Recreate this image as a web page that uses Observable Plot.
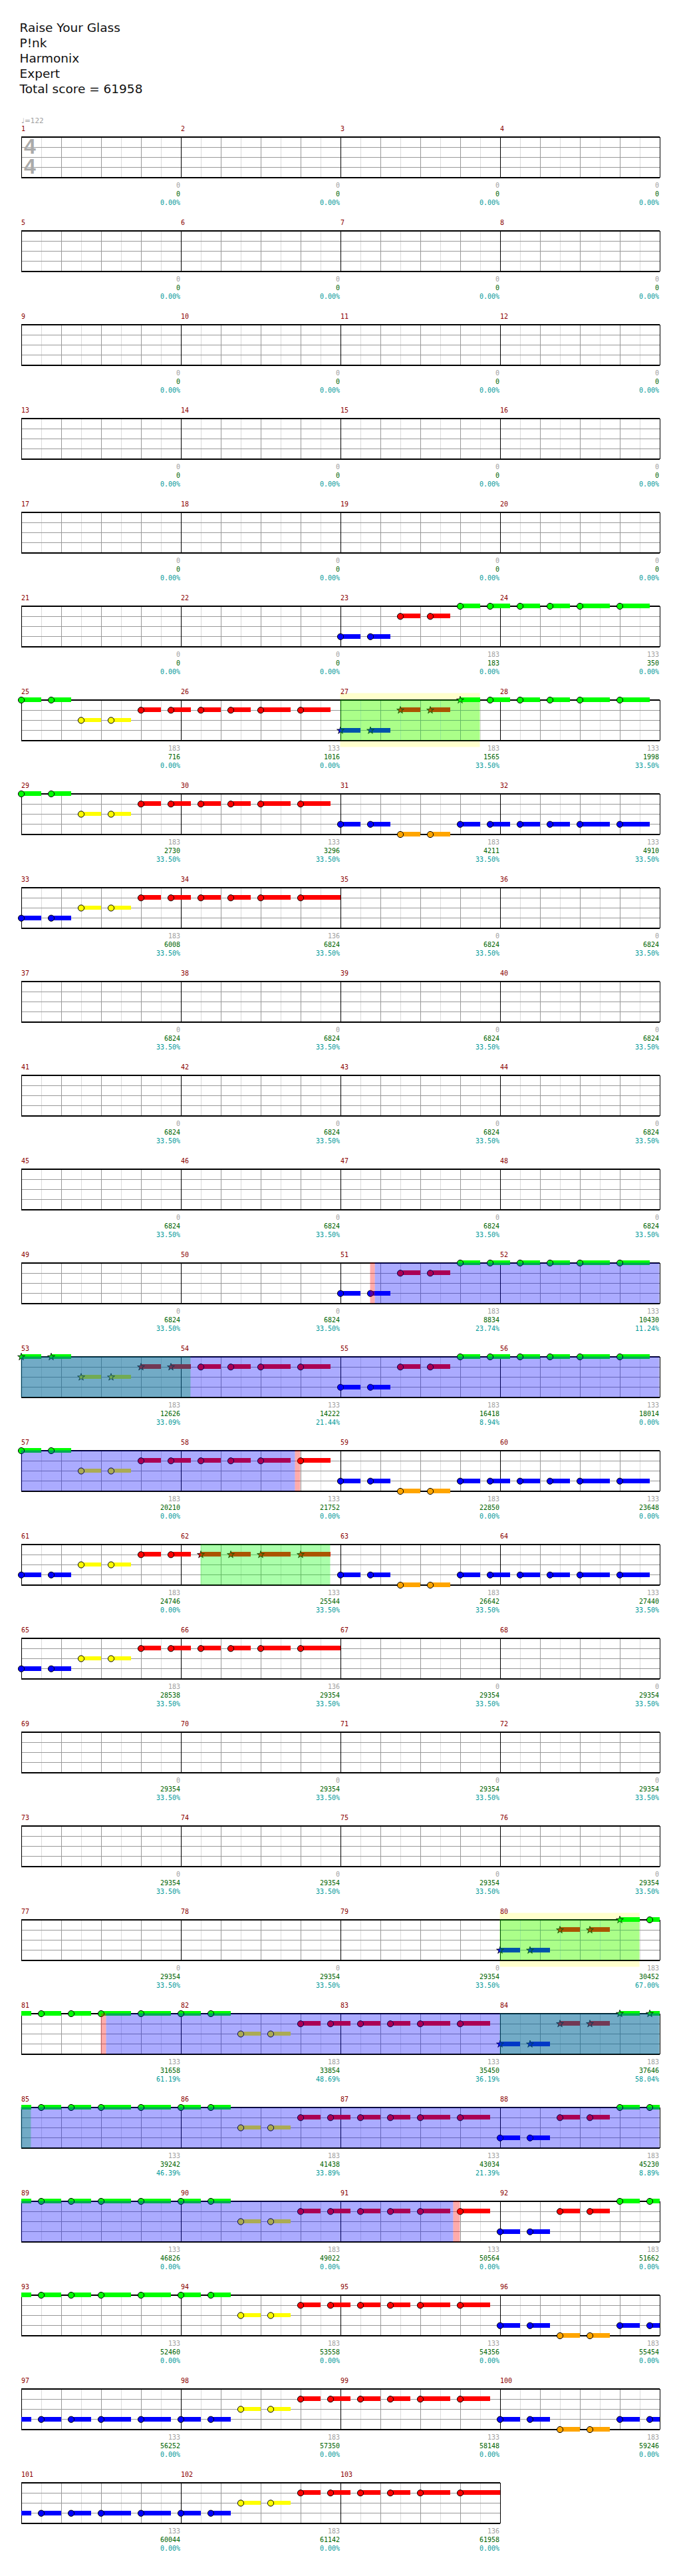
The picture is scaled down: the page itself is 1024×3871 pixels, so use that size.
<!DOCTYPE html>
<html><head><meta charset="utf-8">
<script src="https://cdn.jsdelivr.net/npm/d3@7"></script>
<script src="https://cdn.jsdelivr.net/npm/@observablehq/plot@0.6"></script>
<style>
body{margin:0;background:#fff;}
#title{height:150px;box-sizing:border-box;padding:30px 0 0 29.5px;font-family:"DejaVu Sans",sans-serif;font-size:18.5px;line-height:23px;color:#111;}
#title div{white-space:pre;}
#chart svg{display:block;}
</style></head><body>
<div id="title"></div>
<div id="chart"></div>
<script>
// ---------- data ----------
const titleLines = ["Raise Your Glass", "P!nk", "Harmonix", "Expert", "Total score = 61958"];
const tempoLabel = ["\u2669=122"];
const timeSignature = ["4", "4"];
const fretColors = ["#00ff00", "#ff0000", "#ffff00", "#0000ff", "#ffa500"]; // G R Y B O
const measureCount = 103;

// gray per-measure numbers
const noteScores = [
  0,0,0,0,0,0,0,0,0,0,0,0,0,0,0,0,0,0,0,0,0,0,
  183,133,183,133,183,133,183,133,183,133,183,136,
  0,0,0,0,0,0,0,0,0,0,0,0,0,0,0,0,
  183,133,183,133,183,133,183,133,183,133,183,133,183,133,183,136,
  0,0,0,0,0,0,0,0,0,0,0,0,0,
  183,133,183,133,183,133,183,133,183,133,183,133,183,133,183,133,183,133,183,133,183,133,183,136
];
// green running score
const runningScores = [
  0,0,0,0,0,0,0,0,0,0,0,0,0,0,0,0,0,0,0,0,0,0,
  183,350,716,1016,1565,1998,2730,3296,4211,4910,6008,6824,
  6824,6824,6824,6824,6824,6824,6824,6824,6824,6824,6824,6824,6824,6824,6824,6824,
  8834,10430,12626,14222,16418,18014,20210,21752,22850,23648,24746,25544,26642,27440,28538,29354,
  29354,29354,29354,29354,29354,29354,29354,29354,29354,29354,29354,29354,29354,
  30452,31658,33854,35450,37646,39242,41438,43034,45230,46826,49022,50564,51662,52460,53558,54356,55454,56252,57350,58148,59246,60044,61142,61958
];
// teal percentage
const overdrivePct = [
  0,0,0,0,0,0,0,0,0,0,0,0,0,0,0,0,0,0,0,0,0,0,0,0,0,0,
  33.5,33.5,33.5,33.5,33.5,33.5,33.5,33.5,33.5,33.5,33.5,33.5,33.5,33.5,33.5,33.5,33.5,33.5,33.5,33.5,33.5,33.5,33.5,33.5,
  23.74,11.24,33.09,21.44,8.94,0,0,0,0,0,0,
  33.5,33.5,33.5,33.5,33.5,33.5,33.5,33.5,33.5,33.5,33.5,33.5,33.5,33.5,33.5,33.5,33.5,33.5,
  67.00,61.19,48.69,36.19,58.04,46.39,33.89,21.39,8.89,
  0,0,0,0,0,0,0,0,0,0,0,0,0,0,0
];

// note phrases: [sixteenth offset, fret (0=G..4=O), sustain in sixteenths]
const patA     = [[0,0,2],[3,0,2],[6,2,2],[9,2,2],[12,1,2],[15,1,2],[18,1,2],[21,1,2],[24,1,3],[28,1,3]];
const patAb    = [[0,3,2],[3,3,2],[6,2,2],[9,2,2],[12,1,2],[15,1,2],[18,1,2],[21,1,2],[24,1,3],[28,1,3]];
const patAbEnd = [[0,3,2],[3,3,2],[6,2,2],[9,2,2],[12,1,2],[15,1,2],[18,1,2],[21,1,2],[24,1,3],[28,1,4]];
const patB     = [[0,3,2],[3,3,2],[6,1,2],[9,1,2],[12,0,2],[15,0,2],[18,0,2],[21,0,2],[24,0,3],[28,0,3]];
const patC     = [[0,3,2],[3,3,2],[6,4,2],[9,4,2],[12,3,2],[15,3,2],[18,3,2],[21,3,2],[24,3,3],[28,3,3]];
const patD     = [[2,0,2],[5,0,2],[8,0,3],[12,0,3],[16,0,2],[19,0,2],[22,2,2],[25,2,2],[28,1,2],[31,1,2],[34,1,2],[37,1,2],[40,1,3],[44,1,3]];
const patDb    = [[2,3,2],[5,3,2],[8,3,3],[12,3,3],[16,3,2],[19,3,2],[22,2,2],[25,2,2],[28,1,2],[31,1,2],[34,1,2],[37,1,2],[40,1,3],[44,1,3]];
const patDbEnd = [[2,3,2],[5,3,2],[8,3,3],[12,3,3],[16,3,2],[19,3,2],[22,2,2],[25,2,2],[28,1,2],[31,1,2],[34,1,2],[37,1,2],[40,1,3],[44,1,4]];
const patE     = [[0,3,2],[3,3,2],[6,1,2],[9,1,2],[12,0,2],[15,0,2]];
const patF     = [[0,3,2],[3,3,2],[6,4,2],[9,4,2],[12,3,2],[15,3,2]];

// [start measure, pattern, indices of star notes]
const phrases = [
  [23, patB, []], [25, patA, []], [27, patB, [0,1,2,3,4]], [29, patA, []], [31, patC, []], [33, patAbEnd, []],
  [51, patB, []], [53, patA, [0,1,2,3,4,5]], [55, patB, []], [57, patA, []], [59, patC, []],
  [61, patAb, [6,7,8,9]], [63, patC, []], [65, patAbEnd, []],
  [80, patE, [0,1,2,3,4]], [81, patD, []], [84, patE, [0,1,2,3,4,5]], [85, patD, []], [88, patE, []],
  [89, patD, []], [92, patE, []], [93, patD, []], [96, patF, []], [97, patDb, []], [100, patF, []], [101, patDbEnd, []]
];

// spans: [measure, sixteenth, measure, sixteenth]
const starPhraseSpans = [[27,0,27,14],[53,0,54,1],[62,2,62,15],[80,0,80,14],[84,0,85,1]];
const unisonBands     = [[27,0,27,14],[80,0,80,14]];
const overdriveSpans  = [[51,3.47,58,11.47],[81,8.53,91,11.33]];
const activationMarks = [[51,3,51,3.47],[58,11.47,58,12],[81,8,81,8.53],[91,11.33,91,12]];

// ---------- layout helpers ----------
const ROW_LEN = 64;              // sixteenths per row (4 measures)
const ROWSTEP = 141 / 15.25;     // row pitch in lane units
const nRows = Math.ceil(measureCount / 4);
const abs = (m, t) => (m - 1) * 16 + t;
function split(a, b) {
  const out = [];
  for (let r = Math.floor(a / ROW_LEN); r * ROW_LEN < b; r++) {
    const s = Math.max(a, r * ROW_LEN) - r * ROW_LEN, e = Math.min(b, (r + 1) * ROW_LEN) - r * ROW_LEN;
    if (e > s) out.push({row: r, x1: s, x2: e});
  }
  return out;
}
const spansToRects = spans => spans.flatMap(([m1, t1, m2, t2]) => split(abs(m1, t1), abs(m2, t2)));

const notes = [], bars = [];
for (const [m, pat, stars] of phrases) {
  pat.forEach(([t, fret, len], i) => {
    const a = abs(m, t), row = Math.floor(a / ROW_LEN);
    notes.push({row, x: a - row * ROW_LEN, fret, star: stars.includes(i)});
    for (const s of split(a, a + len)) bars.push({...s, fret});
  });
}

const rows = d3.range(nRows).map(r => ({row: r, len: Math.min(4, measureCount - r * 4) * 16}));
const vLines = rows.flatMap(({row, len}) => d3.range(0, len + 1, 2).map(p => ({row, p, kind: p % 16 === 0 ? "bar" : p % 4 === 0 ? "beat" : "eighth"})));
const hLines = rows.flatMap(({row, len}) => [0,1,2,3,4].map(lane => ({row, len, lane})));
const measures = d3.range(1, measureCount + 1).map(m => ({
  m, row: Math.floor((m - 1) / 4), x: ((m - 1) % 4) * 16,
  score: noteScores[m - 1], total: runningScores[m - 1], pct: overdrivePct[m - 1].toFixed(2) + "%"
}));

const yl = (row, lane) => row * ROWSTEP + lane;

// ---------- title ----------
document.getElementById("title").innerHTML = titleLines.map(t => `<div>${t}</div>`).join("");

// ---------- chart ----------
const mono = "DejaVu Sans Mono";
const chart = Plot.plot({
  width: 1024, height: 3721, margin: 0,
  x: {domain: [0, ROW_LEN], range: [31.5, 991.5], axis: null},
  y: {domain: [0, nRows * ROWSTEP], range: [55.5, 55.5 + nRows * 141], axis: null},
  color: {type: "identity"},
  style: {background: "white"},
  marks: [
    Plot.rect(spansToRects(unisonBands), {x1: "x1", x2: "x2", y1: d => yl(d.row, -10 / 15.25), y2: d => yl(d.row, 4 + 10 / 15.25), fill: "#ffffcc"}),
    Plot.ruleX(vLines.filter(d => d.kind === "eighth"), {x: "p", y1: d => yl(d.row, 0), y2: d => yl(d.row, 4), stroke: "#dcdcdc", shapeRendering: "crispEdges"}),
    Plot.ruleX(vLines.filter(d => d.kind === "beat"), {x: "p", y1: d => yl(d.row, 0), y2: d => yl(d.row, 4), stroke: "#999", shapeRendering: "crispEdges"}),
    Plot.ruleY(hLines.filter(d => d.lane > 0 && d.lane < 4), {y: d => yl(d.row, d.lane), x1: 0, x2: "len", stroke: "#999", shapeRendering: "crispEdges"}),
    Plot.ruleX(vLines.filter(d => d.kind === "bar"), {x: "p", y1: d => yl(d.row, 0), y2: d => yl(d.row, 4), stroke: "black", shapeRendering: "crispEdges"}),
    Plot.ruleY(hLines.filter(d => d.lane === 0 || d.lane === 4), {y: d => yl(d.row, d.lane), x1: 0, x2: "len", stroke: "black", strokeWidth: 1.3, shapeRendering: "crispEdges"}),
    Plot.text(timeSignature, {x: 0, y: (d, i) => yl(0, 1 + 2 * i) - 0.05, dx: 13, text: d => d, fill: "#aaa", fontSize: 32, fontWeight: "bold", fontFamily: "Liberation Sans", textAnchor: "middle"}),
    Plot.rect(bars, {x1: "x1", x2: "x2", y1: d => yl(d.row, d.fret - 0.22), y2: d => yl(d.row, d.fret + 0.22), fill: d => fretColors[d.fret], shapeRendering: "crispEdges"}),
    Plot.dot(notes.filter(d => !d.star), {x: "x", y: d => yl(d.row, d.fret), r: 4.6, fill: d => fretColors[d.fret], stroke: "black", strokeWidth: 1}),
    Plot.dot(notes.filter(d => d.star), {x: "x", y: d => yl(d.row, d.fret), r: 3.4, symbol: "star", fill: d => fretColors[d.fret], stroke: "black", strokeWidth: 0.8}),
    Plot.rect(spansToRects(starPhraseSpans), {x1: "x1", x2: "x2", y1: d => yl(d.row, 0), y2: d => yl(d.row, 4), fill: "#00ff00", fillOpacity: 0.33}),
    Plot.rect(spansToRects(overdriveSpans), {x1: "x1", x2: "x2", y1: d => yl(d.row, 0), y2: d => yl(d.row, 4), fill: "#0000ff", fillOpacity: 0.33}),
    Plot.rect(spansToRects(activationMarks), {x1: "x1", x2: "x2", y1: d => yl(d.row, 0), y2: d => yl(d.row, 4), fill: "#ff0000", fillOpacity: 0.33}),
    Plot.text(tempoLabel, {x: 0, y: yl(0, 0), dy: -24.5, text: d => d, fill: "#a0a0a0", fontSize: 10.5, fontFamily: "DejaVu Sans", textAnchor: "start"}),
    Plot.text(measures, {x: "x", y: d => yl(d.row, 0), dy: -12, text: d => String(d.m), fill: "#8b0000", fontSize: 10, fontFamily: mono, textAnchor: "start"}),
    Plot.text(measures, {x: d => d.x + 16, y: d => yl(d.row, 4), dy: 12, dx: -1, text: d => String(d.score), fill: "#a0a0a0", fontSize: 10, fontFamily: mono, textAnchor: "end"}),
    Plot.text(measures, {x: d => d.x + 16, y: d => yl(d.row, 4), dy: 25, dx: -1, text: d => String(d.total), fill: "#006400", fontSize: 10, fontFamily: mono, textAnchor: "end"}),
    Plot.text(measures, {x: d => d.x + 16, y: d => yl(d.row, 4), dy: 38, dx: -1, text: "pct", fill: "#009999", fontSize: 10, fontFamily: mono, textAnchor: "end"})
  ]
});
document.getElementById("chart").appendChild(chart);
</script>
</body></html>
